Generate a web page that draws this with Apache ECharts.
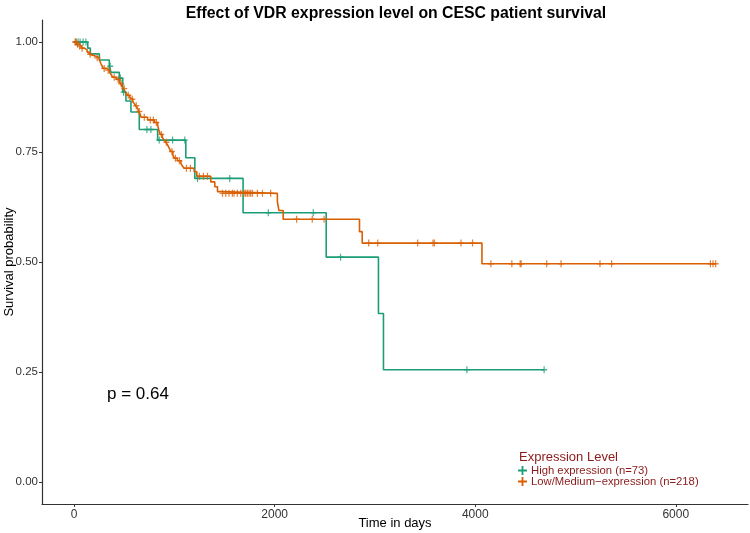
<!DOCTYPE html>
<html>
<head>
<meta charset="utf-8">
<script src="https://cdn.jsdelivr.net/npm/echarts@6/dist/echarts.min.js"></script>
<style>
html,body{margin:0;padding:0;background:#fff;}
#chart{width:750px;height:533px;}
</style>
</head>
<body>
<div id="chart"></div>
<script>
// ---- Data ----
const titleText = "Effect of VDR expression level on CESC patient survival";
const seriesNames = ["High expression (n=73)", "Low/Medium\u2212expression (n=218)"];
const xTicks = [0, 2000, 4000, 6000];
const yTicks = [0, 0.25, 0.5, 0.75, 1];

const highDays = [0, 136, 162, 252, 351, 368, 451, 485, 517, 567, 650, 833, 1114, 1204, 1685, 2514, 3035, 3085, 4687];
const highSurv = [1, 0.986, 0.973, 0.959, 0.945, 0.931, 0.918, 0.886, 0.866, 0.841, 0.801, 0.777, 0.737, 0.690, 0.612, 0.511, 0.383, 0.255, 0.255];
const highCensor = [20, 40, 60, 90, 118, 360, 461, 494, 726, 766, 849, 982, 1104, 1231, 1552, 1937, 2385, 2657, 3917, 4687];

const lowDays = [0, 25, 45, 70, 103, 130, 150, 169, 210, 252, 262, 269, 280, 290, 320, 352, 370, 385, 420, 451, 465, 478, 490, 505, 517, 535, 555, 567, 585, 600, 615, 634, 645, 660, 667, 733, 799, 833, 845, 859, 880, 899, 915, 932, 950, 965, 985, 998, 1030, 1065, 1080, 1098, 1197, 1224, 1363, 1403, 1430, 1463, 2027, 2043, 2085, 2846, 2873, 4067, 6398];
const lowSurv = [1, 0.995, 0.991, 0.986, 0.982, 0.977, 0.972, 0.968, 0.964, 0.959, 0.955, 0.950, 0.945, 0.940, 0.936, 0.931, 0.926, 0.920, 0.915, 0.910, 0.905, 0.899, 0.894, 0.889, 0.884, 0.879, 0.874, 0.870, 0.865, 0.860, 0.855, 0.849, 0.842, 0.835, 0.829, 0.823, 0.817, 0.811, 0.800, 0.790, 0.783, 0.777, 0.772, 0.766, 0.758, 0.751, 0.743, 0.736, 0.730, 0.724, 0.718, 0.713, 0.705, 0.695, 0.682, 0.671, 0.660, 0.656, 0.637, 0.617, 0.597, 0.569, 0.543, 0.496, 0.496];
const lowCensor = [10, 20, 35, 55, 80, 160, 230, 300, 340, 400, 440, 470, 500, 540, 580, 620, 650, 700, 760, 790, 820, 870, 920, 975, 1010, 1050, 1120, 1160, 1250, 1290, 1330, 1480, 1512, 1545, 1578, 1595, 1628, 1662, 1695, 1711, 1728, 1745, 1761, 1778, 1828, 1878, 1960, 2219, 2375, 2493, 2938, 3028, 3426, 3579, 3592, 3858, 3973, 4156, 4365, 4448, 4458, 4713, 4856, 5244, 5360, 6345, 6371, 6398];

const pText = "p = 0.64";
const legendTitle = "Expression Level";

// ---- Helpers ----
const colHigh = '#1B9E77';
const colLow = '#D95F02';
const legendColor = '#8B1A1A';
const plusPath = 'path://M4,0H6V4H10V6H6V10H4V6H0V4H4Z';

function stepValue(days, surv, t) {
  let v = surv[0];
  for (let i = 0; i < days.length; i++) { if (days[i] <= t) v = surv[i]; else break; }
  return v;
}
const highLine = highDays.map((d, i) => [d, highSurv[i]]);
const lowLine = lowDays.map((d, i) => [d, lowSurv[i]]);
const highCens = highCensor.map(t => [t, stepValue(highDays, highSurv, t)]);
const lowCens = lowCensor.map(t => [t, stepValue(lowDays, lowSurv, t)]);

const font = 'Liberation Sans, Arial, Helvetica, sans-serif';
const chart = echarts.init(document.getElementById('chart'), null, {renderer: 'canvas'});
chart.setOption({
  animation: false,
  backgroundColor: '#fff',
  textStyle: {fontFamily: font},
  title: {
    text: titleText, left: 391, top: 1, textAlign: 'center',
    textStyle: {fontSize: 15.8, fontWeight: 'bold', color: '#000', fontFamily: font}
  },
  grid: {left: 42, right: 2, top: 20, bottom: 29, containLabel: false, outerBoundsMode: 'none'},
  xAxis: {
    type: 'value', min: -320, max: 6720,
    name: 'Time in days', nameLocation: 'middle', nameGap: 13, nameMoveOverlap: false,
    nameTextStyle: {fontSize: 13, color: '#000', fontFamily: font, verticalAlign: 'top'},
    axisLine: {show: true, onZero: false, lineStyle: {color: '#333', width: 1.2}},
    axisTick: {show: true, customValues: xTicks, length: 3, lineStyle: {color: '#333'}},
    axisLabel: {customValues: xTicks, fontSize: 12, color: '#333', margin: 5, fontFamily: font,
      formatter: v => String(v)},
    splitLine: {show: false}
  },
  yAxis: {
    type: 'value', min: -0.05, max: 1.05,
    name: 'Survival probability', nameLocation: 'middle', nameGap: 26, nameMoveOverlap: false,
    nameTextStyle: {fontSize: 13, color: '#000', fontFamily: font},
    axisLine: {show: true, onZero: false, lineStyle: {color: '#333', width: 1.2}},
    axisTick: {show: true, customValues: yTicks, length: 3, lineStyle: {color: '#333'}},
    axisLabel: {customValues: yTicks, fontSize: 11.5, color: '#333', margin: 4, fontFamily: font,
      formatter: v => v.toFixed(2)},
    splitLine: {show: false}
  },
  legend: {
    orient: 'vertical', left: 518, top: 465, itemGap: 0,
    itemWidth: 9, itemHeight: 9, padding: 0,
    data: [{name: seriesNames[0], icon: plusPath}, {name: seriesNames[1], icon: plusPath}],
    textStyle: {color: legendColor, fontSize: 11.3, fontFamily: font, padding: [0, 0, 0, -1]}
  },
  graphic: [
    {type: 'text', left: 519, top: 451, style: {text: legendTitle, fill: legendColor, font: '13px ' + font}},
    {type: 'text', left: 107, top: 386, style: {text: pText, fill: '#000', font: '17px ' + font}}
  ],
  series: [
    {name: seriesNames[0], type: 'line', step: 'end', data: highLine, showSymbol: false,
     lineStyle: {color: colHigh, width: 1.6}, itemStyle: {color: colHigh}, z: 2},
    {name: seriesNames[1], type: 'line', step: 'end', data: lowLine, showSymbol: false,
     lineStyle: {color: colLow, width: 1.6}, itemStyle: {color: colLow}, z: 3},
    {name: 'highCensor', type: 'scatter', data: highCens, symbol: plusPath, symbolSize: [6, 7],
     itemStyle: {color: colHigh}, z: 4},
    {name: 'lowCensor', type: 'scatter', data: lowCens, symbol: plusPath, symbolSize: [6, 7],
     itemStyle: {color: colLow}, z: 5}
  ]
});
</script>
</body>
</html>
